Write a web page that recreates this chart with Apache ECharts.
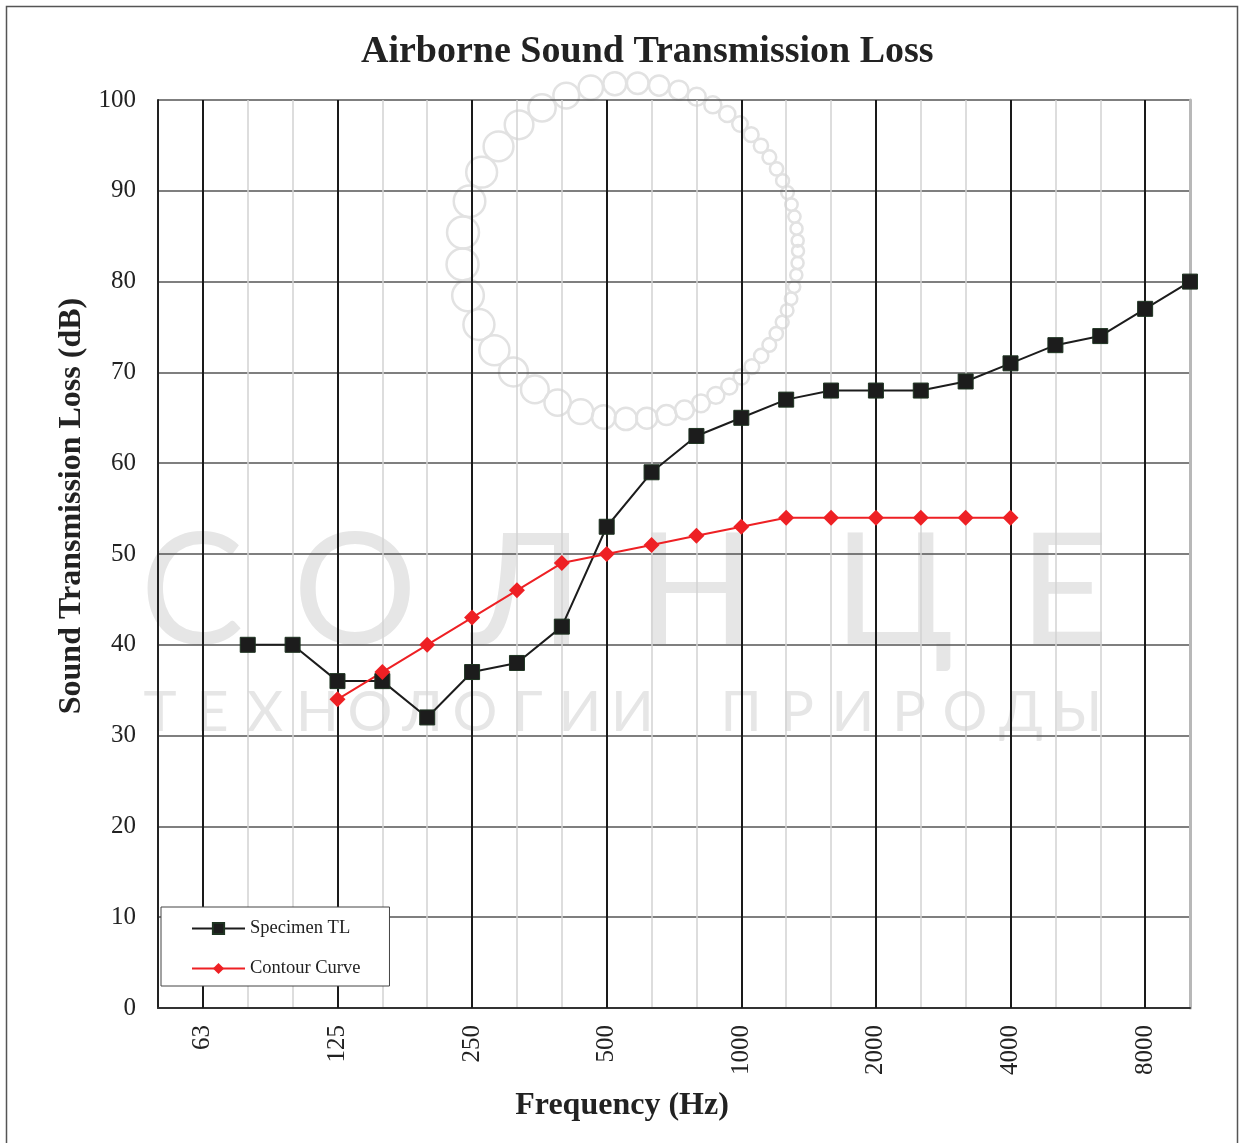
<!DOCTYPE html>
<html lang="en">
<head>
    <meta charset="UTF-8">
    <title>Airborne Sound Transmission Loss</title>
    <script src="https://cdn.jsdelivr.net/npm/echarts@6/dist/echarts.min.js"></script>
    <style>
        html, body { margin: 0; padding: 0; background: #fff; }
    </style>
</head>
<body>
<div id="main" style="width: 1239px;height:1143px;"></div>
<script type="text/javascript">
    // 1/3 octave bands
    var freqs = ['50', '63', '80', '100', '125', '160', '200', '250', '315', '400', '500', '630',
        '800', '1000', '1250', '1600', '2000', '2500', '3150', '4000', '5000', '6300', '8000', '10000'];
    var specimenTL = [null, null, 40, 40, 36, 36, 32, 37, 38, 42, 53, 59,
        63, 65, 67, 68, 68, 68, 69, 71, 73, 74, 77, 80];
    var contourCurve = [null, null, null, null, 34, 37, 40, 43, 46, 49, 50, 51,
        52, 53, 54, 54, 54, 54, 54, 54, null, null, null, null];

    var serif = '"Liberation Serif", "Times New Roman", serif';
    var isOctave = function (i) { return i % 3 === 1; };

    var myChart = echarts.init(document.getElementById('main'));

    // watermark (logo) behind the grid
    var wmColor = '#e6e6e6';
    var graphics = [{
        type: 'rect', z: 100,
        shape: {x: 6.5, y: 6.5, width: 1231, height: 1150},
        style: {fill: null, stroke: '#555', lineWidth: 1.5}
    }];
    var big = ['С', 'О', 'Л', 'Н', 'Ц', 'Е'];
    var bigX = [192, 355, 527, 696, 894, 1064];
    big.forEach(function (ch, i) {
        graphics.push({type: 'text', z: -10, x: bigX[i], y: 594,
            style: {text: ch, fill: wmColor, font: 'normal 155px Lato, sans-serif', align: 'center', verticalAlign: 'middle'}});
    });
    var small = 'ТЕХНОЛОГИИ ПРИРОДЫ';
    var sx = 160;
    for (var k = 0; k < small.length; k++) {
        if (small[k] !== ' ') {
            graphics.push({type: 'text', z: -10, x: sx, y: 713,
                style: {text: small[k], fill: wmColor, font: 'normal 56px Lato, sans-serif', align: 'center', verticalAlign: 'middle'}});
        }
        sx += k < 10 ? 52.5 : 56;
    }
    // ring of small circles
    var cx = 630, cy = 251, R = 168, th = 0;
    while (th < Math.PI * 2 - 0.02) {
        var r = 11 - 5 * Math.cos(th);
        graphics.push({type: 'circle', z: -10,
            shape: {cx: cx + R * Math.cos(th), cy: cy + R * Math.sin(th), r: r},
            style: {fill: null, stroke: '#e2e2e2', lineWidth: 2.5}});
        th += 2 * r / R;
    }

    var option = {
        animation: false,
        backgroundColor: '#fff',
        title: {
            text: 'Airborne Sound Transmission Loss',
            left: 356,
            top: 28,
            textStyle: {fontFamily: serif, fontSize: 38, fontWeight: 'bold', color: '#222'}
        },
        legend: {
            data: ['Specimen TL', 'Contour Curve'],
            orient: 'vertical',
            left: 161,
            top: 907,
            itemWidth: 53,
            itemHeight: 14,
            itemGap: 21,
            padding: [12, 29, 8, 30],
            backgroundColor: '#fff',
            borderColor: '#444',
            borderWidth: 1,
            textStyle: {fontFamily: serif, fontSize: 18.5, color: '#222'}
        },
        grid: {left: 158, right: 49, top: 100, bottom: 135},
        xAxis: [{
            type: 'category',
            data: freqs,
            boundaryGap: false,
            name: 'Frequency (Hz)',
            nameLocation: 'middle',
            nameGap: 82,
            nameTextStyle: {fontFamily: serif, fontSize: 32, fontWeight: 'bold', color: '#222',
                padding: [0, 104, 0, 0]},
            axisLine: {lineStyle: {color: '#333', width: 2}},
            axisTick: {show: false},
            axisLabel: {interval: isOctave, rotate: 90, margin: 17,
                fontFamily: serif, fontSize: 25, color: '#222'},
            splitLine: {show: true, interval: 0, lineStyle: {color: '#d2d2d2', width: 1.5}}
        }, {
            type: 'category',
            data: freqs,
            boundaryGap: false,
            position: 'bottom',
            z: 1,
            axisLine: {show: false},
            axisTick: {show: false},
            axisLabel: {show: false},
            splitLine: {show: true, interval: isOctave, lineStyle: {color: '#1a1a1a', width: 2}}
        }],
        yAxis: [{
            type: 'value',
            min: 0,
            max: 100,
            interval: 10,
            name: 'Sound Transmission Loss (dB)',
            nameLocation: 'middle',
            nameGap: 70,
            nameTextStyle: {fontFamily: serif, fontSize: 32, fontWeight: 'bold', color: '#222',
                padding: [0, 0, 0, 96]},
            axisLine: {show: true, lineStyle: {color: '#222', width: 2}},
            axisTick: {show: false},
            axisLabel: {margin: 22, fontFamily: serif, fontSize: 25, color: '#222'},
            splitLine: {lineStyle: {color: '#555', width: 1.5}}
        }, {
            type: 'value',
            min: 0,
            max: 100,
            position: 'right',
            axisLine: {show: true, lineStyle: {color: '#b8b8b8', width: 3}},
            axisTick: {show: false},
            axisLabel: {show: false},
            splitLine: {show: false}
        }],
        series: [{
            name: 'Specimen TL',
            type: 'line',
            data: specimenTL,
            symbol: 'rect',
            symbolSize: 15,
            itemStyle: {color: '#1c1c1c', borderColor: '#1e3321', borderWidth: 1},
            lineStyle: {color: '#1c1c1c', width: 2}
        }, {
            name: 'Contour Curve',
            type: 'line',
            data: contourCurve,
            symbol: 'diamond',
            symbolSize: 16,
            itemStyle: {color: '#ee2024'},
            lineStyle: {color: '#ee2024', width: 2}
        }],
        graphic: graphics
    };

    myChart.setOption(option);
</script>
</body>
</html>
